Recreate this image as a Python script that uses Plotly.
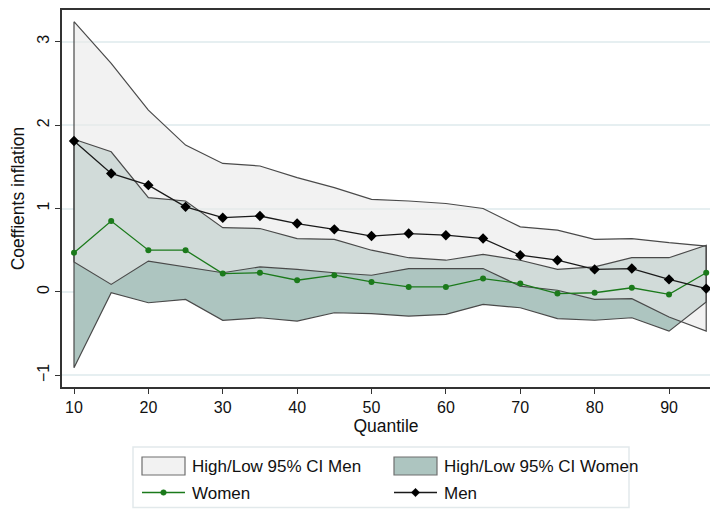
import plotly.graph_objects as go

# Quantile regression coefficients on inflation, by quantile, with 95% CI
quantiles = [10, 15, 20, 25, 30, 35, 40, 45, 50, 55, 60, 65, 70, 75, 80, 85, 90, 95]

men = [1.81, 1.42, 1.28, 1.02, 0.89, 0.91, 0.82, 0.75, 0.67, 0.70, 0.68, 0.64,
       0.44, 0.38, 0.27, 0.28, 0.15, 0.04]
men_hi = [3.24, 2.74, 2.18, 1.76, 1.54, 1.51, 1.37, 1.25, 1.11, 1.09, 1.06, 1.00,
          0.78, 0.74, 0.63, 0.64, 0.59, 0.55]
men_lo = [0.36, 0.09, 0.37, 0.30, 0.23, 0.30, 0.27, 0.23, 0.20, 0.28, 0.28, 0.28,
          0.07, 0.02, -0.09, -0.08, -0.30, -0.47]

women = [0.47, 0.85, 0.50, 0.50, 0.22, 0.23, 0.14, 0.20, 0.12, 0.06, 0.06, 0.16,
         0.10, -0.02, -0.01, 0.05, -0.03, 0.23]
women_hi = [1.83, 1.68, 1.13, 1.09, 0.77, 0.76, 0.64, 0.63, 0.50, 0.41, 0.38, 0.45,
            0.38, 0.27, 0.30, 0.41, 0.41, 0.56]
women_lo = [-0.91, -0.01, -0.13, -0.09, -0.34, -0.31, -0.35, -0.25, -0.26, -0.29,
            -0.27, -0.15, -0.19, -0.32, -0.34, -0.31, -0.47, -0.12]

x_ticks = [10, 20, 30, 40, 50, 60, 70, 80, 90]
y_ticks = [-1, 0, 1, 2, 3]

legend_labels = ["High/Low 95% CI Men", "High/Low 95% CI Women", "Women", "Men"]

FONT = "Liberation Sans, Arial, Helvetica, sans-serif"
EDGE = "#4a4a4a"
WOMEN_FILL = "#adc5c0"
MEN_FILL = "rgba(233,233,233,0.6)"
MEN_SWATCH = "#f2f2f2"
GREEN = "#1b7a1b"

# Figure geometry (pixels) used to place the legend block below the plot
W, H = 710, 509
M_L, M_R, M_T, M_B = 62, 0, 10, 122
PLOT_W = W - M_L - M_R
PLOT_H = H - M_T - M_B


def px(xp):
    return (xp - M_L) / PLOT_W


def py(yp):
    return (H - M_B - yp) / PLOT_H


def polygon(lo, hi):
    """Closed outline of a band: upper edge forward, lower edge back."""
    xs = quantiles + quantiles[::-1] + [quantiles[0]]
    ys = hi + lo[::-1] + [hi[0]]
    return xs, ys


fig = go.Figure()

wx, wy = polygon(women_lo, women_hi)
mx, my = polygon(men_lo, men_hi)

# Women band underneath, men band translucent on top
fig.add_trace(go.Scatter(
    x=wx, y=wy, fill="toself", fillcolor=WOMEN_FILL, mode="lines",
    line=dict(width=0), name=legend_labels[1], hoverinfo="skip"))
fig.add_trace(go.Scatter(
    x=mx, y=my, fill="toself", fillcolor=MEN_FILL, mode="lines",
    line=dict(width=0), name=legend_labels[0], hoverinfo="skip"))

# Band outlines drawn above both fills
for bx, by in ((wx, wy), (mx, my)):
    fig.add_trace(go.Scatter(
        x=bx, y=by, mode="lines", line=dict(color=EDGE, width=1.2),
        hoverinfo="skip"))

fig.add_trace(go.Scatter(
    x=quantiles, y=women, mode="lines+markers", name=legend_labels[2],
    line=dict(color=GREEN, width=1.3),
    marker=dict(symbol="circle", size=6, color=GREEN)))
fig.add_trace(go.Scatter(
    x=quantiles, y=men, mode="lines+markers", name=legend_labels[3],
    line=dict(color="#1a1a1a", width=1.3),
    marker=dict(symbol="diamond", size=8, color="#000000")))

# Legend block: frame, swatches, keyed lines and labels
shapes = []
annotations = []
shapes.append(dict(type="rect", xref="paper", yref="paper",
                   x0=px(133), x1=px(629), y0=py(447), y1=py(507.5),
                   line=dict(color="#e2e9eb", width=1.5), fillcolor="white",
                   layer="above"))

col_x = [142, 394]
row_y = [466, 492.5]
sw_w = 43

# Band swatches
for (cx, fill) in zip(col_x, [MEN_SWATCH, WOMEN_FILL]):
    shapes.append(dict(type="rect", xref="paper", yref="paper",
                       x0=px(cx), x1=px(cx + sw_w), y0=py(row_y[0] - 9),
                       y1=py(row_y[0] + 9), fillcolor=fill,
                       line=dict(color="#6e6e6e", width=1.2), layer="above"))

# Line keys with their markers
for cx, color, kind in zip(col_x, [GREEN, "#1a1a1a"], ["circle", "diamond"]):
    yy = py(row_y[1])
    shapes.append(dict(type="line", xref="paper", yref="paper",
                       x0=px(cx), x1=px(cx + sw_w), y0=yy, y1=yy,
                       line=dict(color=color, width=1.3), layer="above"))
    mxp = cx + sw_w / 2
    if kind == "circle":
        r = 2.8
        shapes.append(dict(type="circle", xref="paper", yref="paper",
                           x0=px(mxp - r), x1=px(mxp + r),
                           y0=py(row_y[1] + r), y1=py(row_y[1] - r),
                           fillcolor=color, line=dict(color=color, width=0.5),
                           layer="above"))
    else:
        r = 4.2
        path = (f"M {px(mxp - r)} {py(row_y[1])} L {px(mxp)} {py(row_y[1] - r)} "
                f"L {px(mxp + r)} {py(row_y[1])} L {px(mxp)} {py(row_y[1] + r)} Z")
        shapes.append(dict(type="path", xref="paper", yref="paper", path=path,
                           fillcolor="#000000", line=dict(color="#000000", width=0.5),
                           layer="above"))

label_pos = [(190, row_y[0]), (442, row_y[0]), (190, row_y[1]), (442, row_y[1])]
for text, (lx, ly) in zip(legend_labels, label_pos):
    annotations.append(dict(text=text, xref="paper", yref="paper",
                            x=px(lx), y=py(ly + 0.5), xanchor="left",
                            yanchor="middle", showarrow=False,
                            font=dict(family=FONT, size=17, color="#111111")))

fig.update_layout(
    width=W, height=H,
    margin=dict(l=M_L, r=M_R, t=M_T, b=M_B),
    paper_bgcolor="white", plot_bgcolor="white",
    font=dict(family=FONT, size=16, color="#111111"),
    showlegend=False,
    shapes=shapes,
    annotations=annotations,
    xaxis=dict(
        range=[8.387, 95.51], tickvals=x_ticks, ticks="outside", ticklen=5,
        tickcolor="#333333", showgrid=False, zeroline=False,
        showline=True, linecolor="#333333", linewidth=1.5, mirror=True,
        tickfont=dict(size=16),
        title=dict(text="Quantile", font=dict(size=17.5), standoff=5)),
    yaxis=dict(
        range=[-1.14, 3.38], tickvals=y_ticks, ticks="outside", ticklen=5,
        tickcolor="#333333", tickangle=-90,
        showgrid=True, gridcolor="#e6eff1", gridwidth=1.5, zeroline=False,
        showline=True, linecolor="#333333", linewidth=1.5,
        tickfont=dict(size=16),
        title=dict(text="Coeffients inflation", font=dict(size=17.5), standoff=6)),
)

fig.write_html("out.html")
